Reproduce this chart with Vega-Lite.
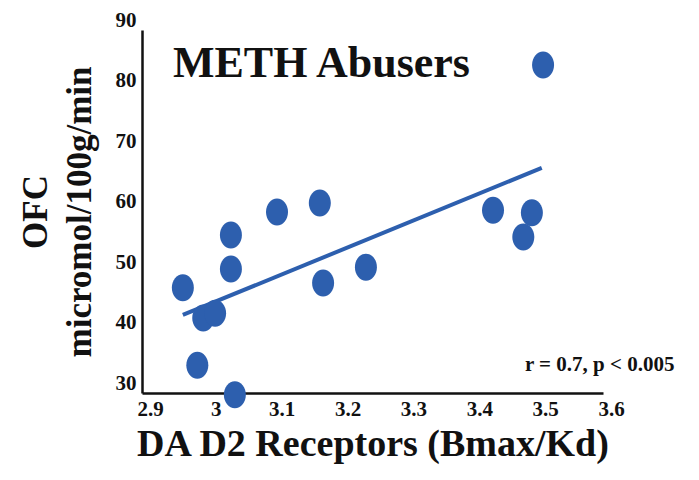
{
  "$schema": "https://vega.github.io/schema/vega-lite/v6.json",
  "width": 461,
  "height": 363,
  "autosize": "none",
  "padding": {"left": 142, "top": 30, "right": 96, "bottom": 87},
  "background": "white",
  "config": {
    "view": {"stroke": null},
    "font": "Liberation Serif",
    "axis": {
      "grid": false,
      "ticks": false,
      "domainColor": "#111111",
      "domainWidth": 2.5,
      "labelFont": "Liberation Serif",
      "labelFontWeight": "bold",
      "labelFontSize": 21,
      "labelColor": "#111111",
      "titleFont": "Liberation Serif",
      "titleFontWeight": "bold",
      "titleColor": "#111111"
    }
  },
  "datasets": {
    "points": [
      {"d2": 3.509, "ofc": 84.2},
      {"d2": 2.962, "ofc": 47.4},
      {"d2": 3.035, "ofc": 56.1},
      {"d2": 3.035, "ofc": 50.5},
      {"d2": 3.105, "ofc": 59.9},
      {"d2": 3.170, "ofc": 61.4},
      {"d2": 3.175, "ofc": 48.2},
      {"d2": 3.240, "ofc": 50.8},
      {"d2": 2.993, "ofc": 42.4},
      {"d2": 3.011, "ofc": 43.2},
      {"d2": 2.984, "ofc": 34.6},
      {"d2": 3.041, "ofc": 29.7},
      {"d2": 3.433, "ofc": 60.2},
      {"d2": 3.492, "ofc": 59.8},
      {"d2": 3.479, "ofc": 55.8}
    ],
    "fit": [
      {"d2": 2.962, "ofc": 42.9},
      {"d2": 3.507, "ofc": 67.2}
    ],
    "labels": [
      {"text": "METH Abusers", "d2": 2.947, "ofc": 82.2, "kind": "title"},
      {"text": "r = 0.7, p < 0.005", "d2": 3.595, "ofc": 34.6, "kind": "stat"}
    ]
  },
  "layer": [
    {
      "data": {"name": "fit"},
      "mark": {"type": "line", "color": "#2d5fae", "strokeWidth": 4},
      "encoding": {
        "x": {
          "field": "d2", "type": "quantitative",
          "scale": {"domain": [2.9, 3.6], "nice": false, "zero": false},
          "axis": {
            "title": "DA D2 Receptors (Bmax/Kd)",
            "titleFontSize": 38,
            "titlePadding": 6,
            "values": [2.9, 3, 3.1, 3.2, 3.3, 3.4, 3.5, 3.6],
            "format": "~g",
            "labelOffset": 8,
            "labelPadding": 5,
            "labelFlush": false
          }
        },
        "y": {
          "field": "ofc", "type": "quantitative",
          "scale": {"domain": [30, 90], "nice": false, "zero": false},
          "axis": {
            "title": ["OFC", "micromol/100g/min"],
            "titleFontSize": 35,
            "titleLineHeight": 44,
            "titlePadding": 18,
            "values": [30, 40, 50, 60, 70, 80, 90],
            "format": "~g",
            "labelOffset": -10,
            "labelPadding": 6,
            "labelFlush": false
          }
        }
      }
    },
    {
      "data": {"name": "points"},
      "mark": {
        "type": "point",
        "filled": true,
        "opacity": 1,
        "color": "#2d5fae",
        "size": 729,
        "shape": "M0,-1A0.815,1,0,1,1,0,1A0.815,1,0,1,1,0,-1Z"
      },
      "encoding": {
        "x": {"field": "d2", "type": "quantitative"},
        "y": {"field": "ofc", "type": "quantitative"}
      }
    },
    {
      "data": {"name": "labels"},
      "transform": [{"filter": "datum.kind === 'title'"}],
      "mark": {"type": "text", "align": "left", "baseline": "alphabetic", "fontSize": 44, "fontWeight": "bold", "font": "Liberation Serif", "color": "#111111"},
      "encoding": {
        "x": {"field": "d2", "type": "quantitative"},
        "y": {"field": "ofc", "type": "quantitative"},
        "text": {"field": "text"}
      }
    },
    {
      "data": {"name": "labels"},
      "transform": [{"filter": "datum.kind === 'stat'"}],
      "mark": {"type": "text", "align": "center", "baseline": "middle", "fontSize": 21, "fontWeight": "bold", "font": "Liberation Serif", "color": "#111111"},
      "encoding": {
        "x": {"field": "d2", "type": "quantitative"},
        "y": {"field": "ofc", "type": "quantitative"},
        "text": {"field": "text"}
      }
    }
  ]
}
